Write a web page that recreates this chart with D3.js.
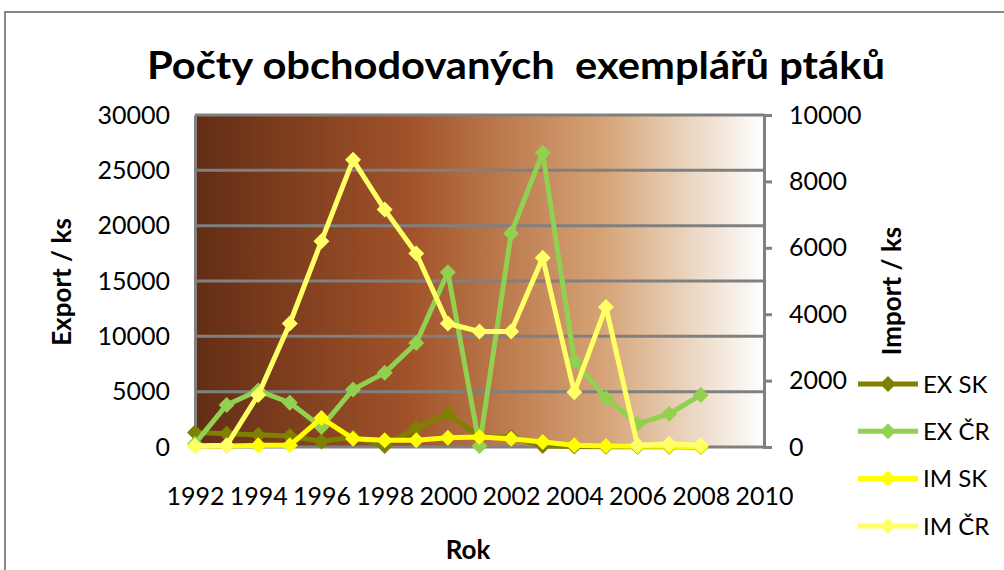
<!DOCTYPE html>
<html>
<head>
<meta charset="utf-8">
<script src="https://cdn.jsdelivr.net/npm/d3@7/dist/d3.min.js"></script>
<style>
  body { margin: 0; background: #fff; }
  text { font-family: Lato, 'Open Sans', sans-serif; }
</style>
</head>
<body>
<div id="chart"></div>
<script>
const years = [1992, 1993, 1994, 1995, 1996, 1997, 1998, 1999, 2000, 2001, 2002, 2003, 2004, 2005, 2006, 2007, 2008]
// export, left axis
const exSK = [1300, 1200, 1100, 1000, 500, 900, 100, 1700, 3000, 900, 900, 100, 50, 30, 20, 20, 10]
const exCR = [300, 3800, 5100, 4000, 1800, 5200, 6700, 9400, 15800, 100, 19300, 26600, 7800, 4400, 2100, 3000, 4700]
// import, right axis
const imSK = [30, 30, 50, 50, 870, 250, 200, 200, 280, 300, 250, 150, 50, 30, 20, 20, 10]
const imCR = [30, 50, 1570, 3720, 6200, 8650, 7150, 5830, 3720, 3480, 3480, 5700, 1650, 4220, 50, 100, 50]
const xTicks = [1992, 1994, 1996, 1998, 2000, 2002, 2004, 2006, 2008, 2010]
const leftTicks = [0, 5000, 10000, 15000, 20000, 25000, 30000]
const rightTicks = [0, 2000, 4000, 6000, 8000, 10000]
const seriesNames = ['EX SK', 'EX ČR', 'IM SK', 'IM ČR']

const width = 1004
const height = 570
const plot = {'left': 195, 'right': 764, 'top': 115, 'bottom': 447}
const colors = ['#7F7F00', '#92D050', '#FFFF00', '#FFFF66']
const lineWidth = 5
const markerR = 8

let svg = d3.select('#chart')
  .append('svg')
  .attr('width', width)
  .attr('height', height)

// outer chart border
svg.append('rect')
  .attr('x', 5)
  .attr('y', 12)
  .attr('width', width + 10)
  .attr('height', height + 10)
  .style('fill', '#fff')
  .style('stroke', '#878787')
  .style('stroke-width', 2)

// plot background gradient
let grad = svg.append('defs')
  .append('linearGradient')
  .attr('id', 'bg')
  .attr('x1', '0%').attr('x2', '100%')
  .attr('y1', '0%').attr('y2', '0%')
let stops = [[0, '#622d15'], [0.38, '#a2532a'], [0.55, '#bd7c4f'], [0.72, '#d6a477'], [0.88, '#ecd9c6'], [1, '#ffffff']]
stops.forEach(s => grad.append('stop').attr('offset', s[0]).attr('stop-color', s[1]))

svg.append('rect')
  .attr('x', plot.left)
  .attr('y', plot.top)
  .attr('width', plot.right - plot.left)
  .attr('height', plot.bottom - plot.top)
  .style('fill', 'url(#bg)')

let xScale = d3.scaleLinear()
  .domain([1992, 2010])
  .range([plot.left, plot.right])
let yLeft = d3.scaleLinear()
  .domain([0, 30000])
  .range([plot.bottom, plot.top])
let yRight = d3.scaleLinear()
  .domain([0, 10000])
  .range([plot.bottom, plot.top])

// gridlines
svg.append('g')
  .selectAll('line')
  .data(leftTicks)
  .enter()
  .append('line')
  .attr('x1', plot.left)
  .attr('x2', plot.right)
  .attr('y1', d => yLeft(d))
  .attr('y2', d => yLeft(d))
  .style('stroke', '#808080')
  .style('stroke-width', 3)

// axes
let styleAxis = function (g) {
  g.select('.domain').style('stroke', '#808080').style('stroke-width', 3)
  g.selectAll('.tick line').style('stroke', '#808080').style('stroke-width', 3)
  g.selectAll('.tick text')
    .style('font-family', 'Lato, sans-serif')
    .style('font-size', '25px')
    .style('fill', '#000')
}

svg.append('g')
  .attr('transform', `translate(${plot.left},0)`)
  .call(d3.axisLeft(yLeft).tickValues(leftTicks).tickSize(0).tickPadding(25).tickFormat(d3.format('d')))
  .call(styleAxis)

svg.append('g')
  .attr('transform', `translate(${plot.right},0)`)
  .call(d3.axisRight(yRight).tickValues(rightTicks).tickSizeInner(8).tickSizeOuter(8).tickPadding(17).tickFormat(d3.format('d')))
  .call(styleAxis)

svg.append('g')
  .attr('transform', `translate(0,${plot.bottom})`)
  .call(d3.axisBottom(xScale).tickValues(xTicks).tickSize(0).tickPadding(40).tickFormat(d3.format('d')))
  .call(styleAxis)
  .call(g => g.select('.domain').remove())

// series
let series = [
  {'name': seriesNames[0], 'values': exSK, 'y': yLeft, 'color': colors[0]},
  {'name': seriesNames[1], 'values': exCR, 'y': yLeft, 'color': colors[1]},
  {'name': seriesNames[2], 'values': imSK, 'y': yRight, 'color': colors[2]},
  {'name': seriesNames[3], 'values': imCR, 'y': yRight, 'color': colors[3]}
]
let diamond = r => `M0,${-r}L${r},0L0,${r}L${-r},0Z`

series.forEach(s => {
  let data = years.map((yr, i) => ({'x': yr, 'y': s.values[i]}))
  let line = d3.line()
    .x(d => xScale(d.x))
    .y(d => s.y(d.y))
  svg.append('path')
    .datum(data)
    .attr('d', line)
    .style('fill', 'none')
    .style('stroke', s.color)
    .style('stroke-width', lineWidth)
    .style('stroke-linejoin', 'round')
  svg.append('g')
    .selectAll('path')
    .data(data)
    .enter()
    .append('path')
    .attr('transform', d => `translate(${xScale(d.x)},${s.y(d.y)})`)
    .attr('d', diamond(markerR))
    .style('fill', s.color)
})

// legend
let legend = svg.append('g')
  .selectAll('g')
  .data(series)
  .enter()
  .append('g')
  .attr('transform', (d, i) => `translate(858,${384 + i * 47.3})`)
legend.append('line')
  .attr('x1', 0).attr('x2', 60)
  .style('stroke', d => d.color)
  .style('stroke-width', lineWidth)
legend.append('path')
  .attr('transform', 'translate(30,0)')
  .attr('d', diamond(markerR))
  .style('fill', d => d.color)
legend.append('text')
  .attr('x', 65)
  .attr('dy', '0.36em')
  .style('font-size', '24px')
  .text(d => d.name)

// titles
svg.append('text')
  .attr('x', 516)
  .attr('y', 79)
  .attr('text-anchor', 'middle')
  .attr('textLength', 738)
  .attr('lengthAdjust', 'spacingAndGlyphs')
  .style('white-space', 'pre')
  .style('font-size', '38px')
  .style('font-weight', 'bold')
  .text('Počty obchodovaných  exemplářů ptáků')

svg.append('text')
  .attr('transform', 'translate(71,282) rotate(-90)')
  .attr('text-anchor', 'middle')
  .style('font-size', '26px')
  .style('font-weight', 'bold')
  .text('Export / ks')

svg.append('text')
  .attr('transform', 'translate(901,291) rotate(-90)')
  .attr('text-anchor', 'middle')
  .style('font-size', '26px')
  .style('font-weight', 'bold')
  .text('Import / ks')

svg.append('text')
  .attr('x', 468)
  .attr('y', 559)
  .attr('text-anchor', 'middle')
  .style('font-size', '26px')
  .style('font-weight', 'bold')
  .text('Rok')
</script>
</body>
</html>
